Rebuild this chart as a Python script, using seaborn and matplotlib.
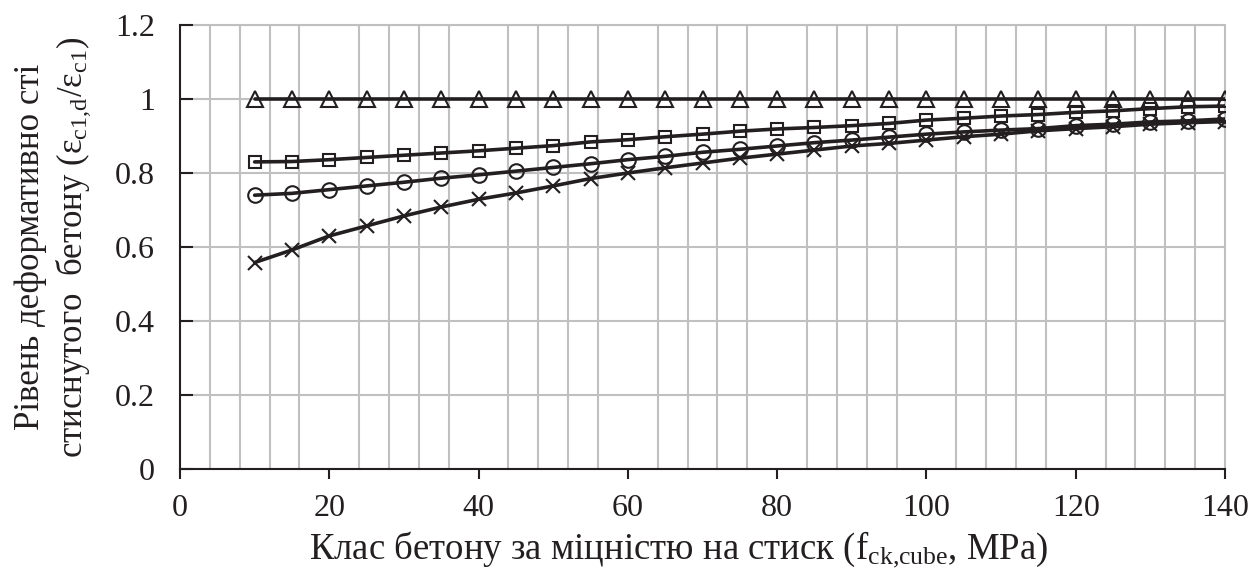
import numpy as np
import pandas as pd
import matplotlib
matplotlib.use("Agg")
import matplotlib.pyplot as plt
import seaborn as sns
from matplotlib.ticker import MultipleLocator, FuncFormatter

# ---- data ----
x_class = [10, 15, 20, 25, 30, 35, 40, 45, 50, 55, 60, 65, 70, 75,
           80, 85, 90, 95, 100, 105, 110, 115, 120, 125, 130, 135, 140]
s_triangle = [1.0, 1.0, 1.0, 1.0, 1.0, 1.0, 1.0, 1.0, 1.0, 1.0, 1.0, 1.0, 1.0, 1.0,
              1.0, 1.0, 1.0, 1.0, 1.0, 1.0, 1.0, 1.0, 1.0, 1.0, 1.0, 1.0, 1.0]
s_square = [0.830, 0.831, 0.836, 0.842, 0.848, 0.854, 0.860, 0.867, 0.874, 0.884, 0.890, 0.898, 0.905, 0.913,
            0.919, 0.923, 0.928, 0.934, 0.943, 0.948, 0.954, 0.958, 0.964, 0.968, 0.974, 0.979, 0.981]
s_circle = [0.740, 0.745, 0.755, 0.765, 0.775, 0.786, 0.795, 0.805, 0.815, 0.825, 0.836, 0.845, 0.856, 0.864,
            0.873, 0.882, 0.889, 0.897, 0.905, 0.911, 0.916, 0.920, 0.928, 0.932, 0.938, 0.941, 0.946]
s_cross = [0.558, 0.592, 0.630, 0.657, 0.684, 0.708, 0.729, 0.746, 0.765, 0.785, 0.800, 0.814, 0.827, 0.840,
           0.851, 0.862, 0.873, 0.880, 0.889, 0.898, 0.905, 0.914, 0.920, 0.925, 0.932, 0.936, 0.939]

series = [("triangle", s_triangle, "^", 11.5),
          ("square", s_square, "s", 8.5),
          ("circle", s_circle, "o", 10.5),
          ("cross", s_cross, "x", 10)]

INK = "#231f20"

sns.set_theme(style="white")
plt.rcParams["font.family"] = ["Liberation Serif", "DejaVu Serif"]
plt.rcParams["mathtext.fontset"] = "custom"
plt.rcParams["mathtext.rm"] = "Liberation Serif"
plt.rcParams["mathtext.it"] = "Liberation Serif:italic"

fig = plt.figure(figsize=(12.6, 5.73), dpi=100)
ax = fig.add_axes([180/1260, 1-469/573, (1225-180)/1260, (469-25)/573])

for name, vals, mk, ms in series:
    df = pd.DataFrame({"x": x_class, "y": vals})
    sns.lineplot(data=df, x="x", y="y", ax=ax, color=INK, linewidth=2.6,
                 marker=mk, markersize=ms, markerfacecolor="none",
                 markeredgecolor=INK, markeredgewidth=1.5, zorder=3)

for ln in ax.lines:
    ln.set_markerfacecolor("none")
    ln.set_markeredgecolor(INK)

ax.set_xlim(0, 140)
ax.set_ylim(0, 1.2)
ax.xaxis.set_major_locator(MultipleLocator(20))
ax.xaxis.set_minor_locator(MultipleLocator(4))
ax.yaxis.set_major_locator(MultipleLocator(0.2))
ax.yaxis.set_major_formatter(FuncFormatter(lambda v, p: f"{v:g}"))

ax.grid(False)
ax.grid(which="major", axis="y", color="#c0c0c0", linewidth=1.5, zorder=0)
ax.grid(which="minor", axis="x", color="#c0c0c0", linewidth=1.5, zorder=0)
ax.set_axisbelow(True)

for side in ["top", "right"]:
    ax.spines[side].set_visible(False)
for side in ["left", "bottom"]:
    ax.spines[side].set_color(INK)
    ax.spines[side].set_linewidth(1.5)
    ax.spines[side].set_zorder(4)
ax.axhline(1.2, color="#c0c0c0", linewidth=1.5, zorder=0, clip_on=False)
ax.axvline(140, color="#c0c0c0", linewidth=1.5, zorder=0, clip_on=False)

ax.tick_params(axis="x", which="major", direction="out", length=7, width=1.5,
               color=INK, labelsize=23, pad=11, labelcolor=INK, bottom=True)
ax.tick_params(axis="x", which="minor", length=0)
ax.tick_params(axis="y", which="major", direction="in", length=9, width=1.5,
               color=INK, labelsize=23, pad=18, labelcolor=INK, left=True)

ax.set_xlabel(r"Клас бетону за міцністю на стиск (f$_{\mathregular{ck{,}cube}}$, MPa)",
              fontsize=26.5, color=INK)
ax.xaxis.set_label_coords(0.4775, -0.137)
ax.set_ylabel("Рівень деформативно сті\n"
              r"стиснутого  бетону (ε$_{\mathregular{c1{,}d}}$/ε$_{\mathregular{c1}}$)",
              fontsize=25, color=INK, linespacing=1.25)
ax.yaxis.set_label_coords(-0.083, 0.5)

fig.savefig("out.png", dpi=100)
